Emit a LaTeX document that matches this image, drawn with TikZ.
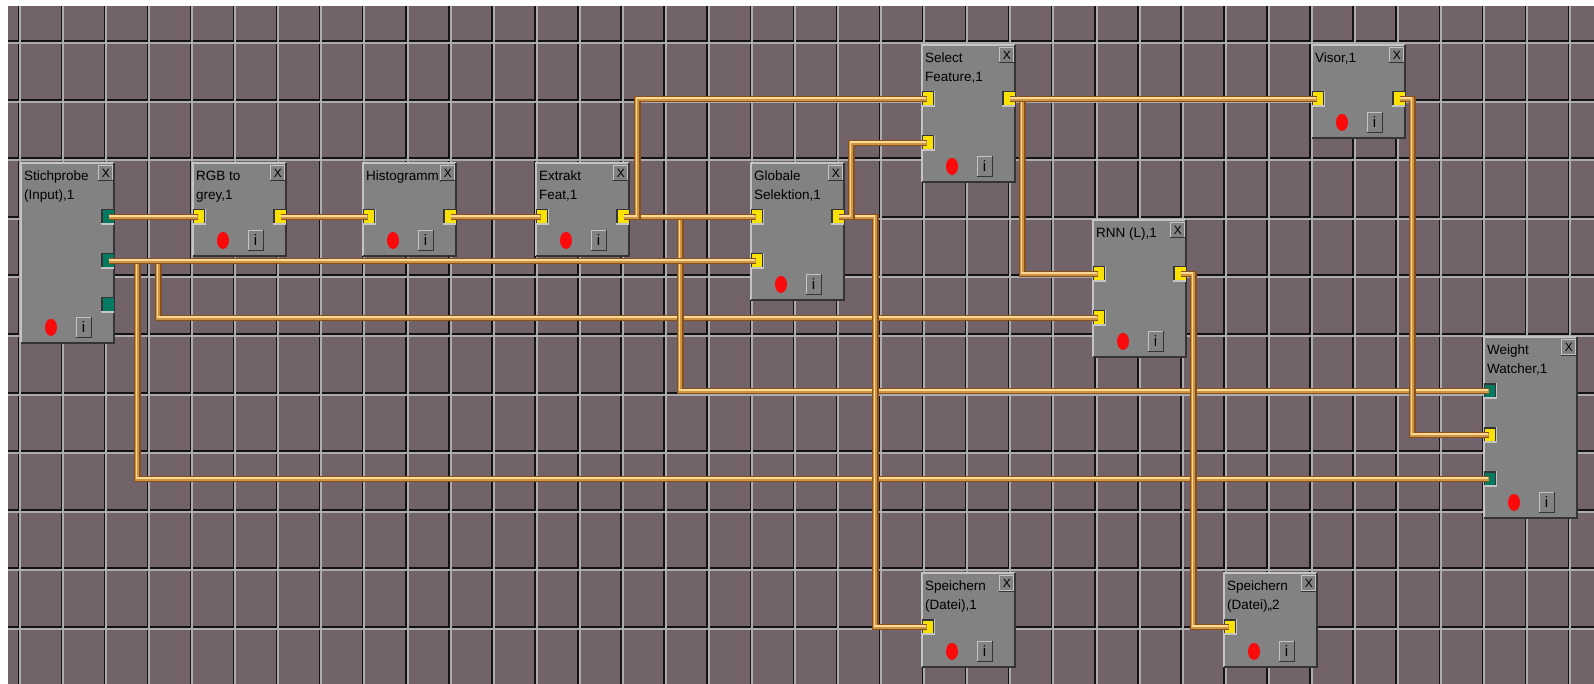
\documentclass[tikz,border=0pt]{standalone}
\usepackage{fontspec}
\setmainfont{Liberation Sans}
\usetikzlibrary{calc,positioning}
\definecolor{grund}{RGB}{114,98,106}
\definecolor{gitter}{RGB}{172,172,172}
\definecolor{schatten}{RGB}{20,18,20}
\definecolor{modgrau}{RGB}{130,130,130}
\definecolor{hell}{RGB}{196,196,196}
\definecolor{dunkel}{RGB}{52,52,52}
\definecolor{portgelb}{RGB}{250,226,0}
\definecolor{portgruen}{RGB}{0,122,96}
\definecolor{kabeldunkel}{RGB}{136,80,28}
\definecolor{kabelmitte}{RGB}{206,148,66}
\definecolor{kabelhell}{RGB}{250,218,150}
\definecolor{lampe}{RGB}{250,10,10}

\tikzset{
  modul/.style={rectangle, fill=modgrau, minimum width=93pt, inner sep=0pt, anchor=north west},
  titel/.style={anchor=north west, align=left, inner sep=0pt, font=\fontsize{13.5}{19}\selectfont, text=black},
  knopf/.style={rectangle, fill=modgrau, draw=hell, line width=1pt, inner sep=0pt, text=black},
  kabel/.style={draw=kabelmitte, line width=4pt,
    preaction={draw=kabeldunkel, line width=6.5pt},
    postaction={draw=kabelhell, line width=1.6pt, transform canvas={shift={(-0.9pt,0.9pt)}}}},
}

\newcommand{\modul}[5]{%
  \node[modul, minimum height=#4pt] (#1) at (#2,#3) {};
  \draw[hell, line width=1.5pt] (#1.south west) -- (#1.north west) -- (#1.north east);
  \draw[dunkel, line width=2pt] (#1.north east) -- (#1.south east) -- (#1.south west);
  \node[titel] (#1-titel) at ($(#1.north west)+(3,8)$) {#5};
  \node[knopf, minimum width=14pt, minimum height=15pt, anchor=north east, font=\fontsize{12}{12}\selectfont] (#1-x) at ($(#1.north east)+(-1,2)$) {X};
  \draw[dunkel, line width=1pt] (#1-x.north east) -- (#1-x.south east) -- (#1-x.south west);
  \fill[lampe] ($(#1.south west)+(30,-16)$) ellipse [x radius=6, y radius=8.5];
  \node[knopf, minimum width=15pt, minimum height=20pt, font=\fontsize{15}{15}\selectfont] (#1-i) at ($(#1.south west)+(62.5,-16)$) {i};
  \draw[dunkel, line width=1pt] (#1-i.north east) -- (#1-i.south east) -- (#1-i.south west);
}
\newcommand{\eingang}[3]{%
  \coordinate (#1-ein#2) at ($(#1.north west)+(5,{10+44*#2})$);
  \fill[dunkel] ($(#1-ein#2)+(-5,-8)$) rectangle ($(#1-ein#2)+(7,6)$);
  \fill[hell] ($(#1-ein#2)+(-5,6)$) rectangle ($(#1-ein#2)+(8,8)$);
  \fill[hell] ($(#1-ein#2)+(7,-8)$) rectangle ($(#1-ein#2)+(8,8)$);
  \fill[#3] ($(#1-ein#2)+(-4,-6.5)$) rectangle ($(#1-ein#2)+(6,6)$);
}
\newcommand{\ausgang}[3]{%
  \coordinate (#1-aus#2) at ($(#1.north east)+(-5,{10+44*#2})$);
  \fill[dunkel] ($(#1-aus#2)+(-8,-8)$) rectangle ($(#1-aus#2)+(5,6)$);
  \fill[hell] ($(#1-aus#2)+(-8,6)$) rectangle ($(#1-aus#2)+(5,8)$);
  \fill[#3] ($(#1-aus#2)+(-6,-6.5)$) rectangle ($(#1-aus#2)+(5,6)$);
}

\begin{document}
\begin{tikzpicture}[x=1pt, y=-1pt]
    \useasboundingbox (0,0) rectangle (1594,684);
    \fill[white] (0,0) rectangle (1594,684);
    \fill[grund] (8,6) rectangle (1594,684);
    \foreach \i in {0,...,36} \fill[schatten] ({17.5+43.06*\i},6) rectangle ++(1.5,678);
    \foreach \j in {0,...,10} \fill[schatten] (8,{40.5+58.5*\j}) rectangle ++(1586,2);
    \foreach \i in {0,...,36} \fill[gitter] ({19+43.06*\i},6) rectangle ++(2,678);
    \foreach \j in {0,...,10} \fill[gitter] (8,{42.5+58.5*\j}) rectangle ++(1586,2);

    \modul{stich}{21}{163}{180}{Stichprobe\\(Input),1}
    \modul{rgb}{193}{163}{93}{RGB to\\grey,1}
    \modul{histo}{363}{163}{93}{Histogramm,}
    \modul{extrakt}{536}{163}{93}{Extrakt\\Feat,1}
    \modul{glob}{751}{163}{137}{Globale\\Selektion,1}
    \modul{select}{922}{45}{137}{Select\\Feature,1}
    \modul{visor}{1312}{45}{93}{Visor,1}
    \modul{rnn}{1093}{220}{137}{RNN (L),1}
    \modul{ww}{1484}{337}{181}{Weight\\Watcher,1}
    \modul{spa}{922}{573}{94}{Speichern\\(Datei),1}
    \modul{spb}{1224}{573}{94}{Speichern\\(Datei),,2}

    \ausgang{stich}{1}{portgruen}
    \ausgang{stich}{2}{portgruen}
    \ausgang{stich}{3}{portgruen}
    \eingang{rgb}{1}{portgelb}
    \ausgang{rgb}{1}{portgelb}
    \eingang{histo}{1}{portgelb}
    \ausgang{histo}{1}{portgelb}
    \eingang{extrakt}{1}{portgelb}
    \ausgang{extrakt}{1}{portgelb}
    \eingang{glob}{1}{portgelb}
    \eingang{glob}{2}{portgelb}
    \ausgang{glob}{1}{portgelb}
    \eingang{select}{1}{portgelb}
    \eingang{select}{2}{portgelb}
    \ausgang{select}{1}{portgelb}
    \eingang{visor}{1}{portgelb}
    \ausgang{visor}{1}{portgelb}
    \eingang{rnn}{1}{portgelb}
    \eingang{rnn}{2}{portgelb}
    \ausgang{rnn}{1}{portgelb}
    \eingang{ww}{1}{portgruen}
    \eingang{ww}{2}{portgelb}
    \eingang{ww}{3}{portgruen}
    \eingang{spa}{1}{portgelb}
    \eingang{spb}{1}{portgelb}

    \draw[kabel] (stich-aus2) -- ++(28,0) |- (ww-ein3);
    \draw[kabel] (stich-aus2) -- ++(49,0) |- (rnn-ein2);
    \draw[kabel] (extrakt-aus1) -- ++(56,0) |- (ww-ein1);
    \draw[kabel] (stich-aus2) -- (glob-ein2);
    \draw[kabel] (glob-aus1) -- ++(36,0) |- (spa-ein1);
    \draw[kabel] (glob-aus1) -- ++(12,0) |- (select-ein2);
    \draw[kabel] (stich-aus1) -- (rgb-ein1);
    \draw[kabel] (rgb-aus1) -- (histo-ein1);
    \draw[kabel] (histo-aus1) -- (extrakt-ein1);
    \draw[kabel] (extrakt-aus1) -- (glob-ein1);
    \draw[kabel] (extrakt-aus1) -- ++(13,0) |- (select-ein1);
    \draw[kabel] (select-aus1) -- ++(12,0) |- (rnn-ein1);
    \draw[kabel] (select-aus1) -- (visor-ein1);
    \draw[kabel] (visor-aus1) -- ++(12,0) |- (ww-ein2);
    \draw[kabel] (rnn-aus1) -- ++(12,0) |- (spb-ein1);
\end{tikzpicture}
\end{document}
